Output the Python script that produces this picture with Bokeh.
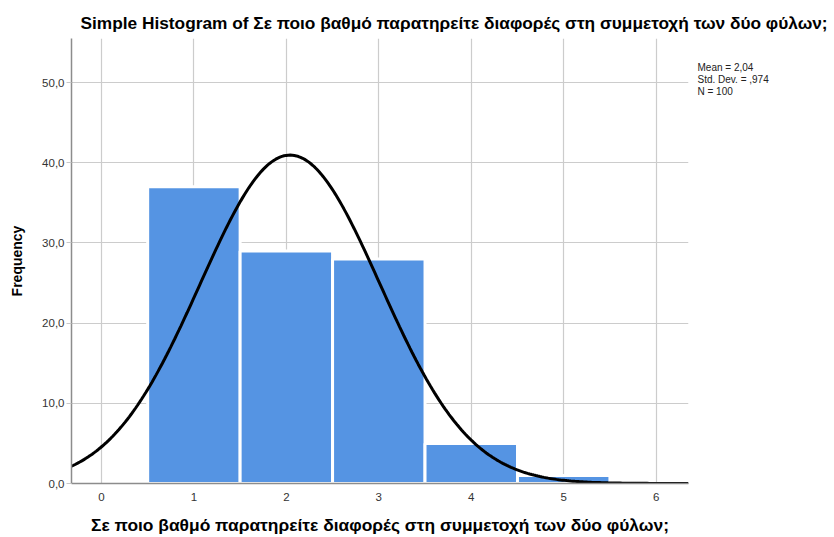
import numpy as np
from bokeh.plotting import figure
from bokeh.models import FixedTicker, ColumnDataSource, Range1d, LinearAxis
from bokeh.embed import file_html
from bokeh.resources import INLINE

# Data
categories = [1, 2, 3, 4, 5]
frequencies = [37, 29, 28, 5, 1]
x_ticks = [0, 1, 2, 3, 4, 5, 6]
y_ticks = [0, 10, 20, 30, 40, 50]
y_tick_labels = ["0,0", "10,0", "20,0", "30,0", "40,0", "50,0"]
mean_val = 2.04
std_val = 0.974
n_val = 100
stats_lines = ["Mean = 2,04", "Std. Dev. = ,974", "N = 100"]

title_text = "Simple Histogram of Σε ποιο βαθμό παρατηρείτε διαφορές στη συμμετοχή των δύο φύλων;"
x_label = "Σε ποιο βαθμό παρατηρείτε διαφορές στη συμμετοχή των δύο φύλων;"
y_label = "Frequency"

FONT = "Liberation Sans"
Y_MAX = 55.5
FRAME_H = 445.0

p = figure(width=834, height=537, output_backend="svg", toolbar_location=None,
           x_range=Range1d(-0.324, 6.35), y_range=Range1d(0, Y_MAX),
           min_border_left=71, min_border_right=146, min_border_top=38,
           min_border_bottom=54)
p.outline_line_color = None
p.background_fill_color = "white"

# Title
p.title.text = title_text
p.title.text_font = FONT
p.title.text_font_size = "17.3px"
p.title.text_font_style = "bold"
p.title.align = "left"
p.title.offset = 9
p.title.standoff = 11
p.title.text_color = "#000000"

# Bars
src = ColumnDataSource(dict(x=categories, top=frequencies))
p.vbar(x="x", top="top", width=1.0, source=src, fill_color="#5594e3",
       line_color="white", line_width=3)

# Normal curve from the reported mean and std. dev. (bin width 1)
xs = np.linspace(-0.324, 6.35, 300)
ys = n_val * 1.0 * np.exp(-0.5 * ((xs - mean_val) / std_val) ** 2) / (std_val * np.sqrt(2 * np.pi))
p.line(xs, ys, line_color="black", line_width=3)

# Axes
xax = p.xaxis[0]
yax = p.yaxis[0]
xax.ticker = FixedTicker(ticks=x_ticks)
yax.ticker = FixedTicker(ticks=y_ticks)
yax.major_label_overrides = {t: l for t, l in zip(y_ticks, y_tick_labels)}
for ax in (xax, yax):
    ax.axis_line_color = "#8c8c8c"
    ax.axis_line_width = 1.5
    ax.major_label_text_font = FONT
    ax.major_label_text_font_size = "11.5px"
    ax.major_label_text_color = "#333333"
    ax.minor_tick_line_color = None
    ax.minor_tick_in = 0
    ax.minor_tick_out = 0
    ax.axis_label_text_font = FONT
    ax.axis_label_text_font_style = "bold"
    ax.axis_label_text_color = "#000000"
xax.major_tick_line_color = None
xax.major_tick_in = 0
xax.major_tick_out = 0
xax.major_label_standoff = 9
yax.major_tick_line_color = "#c8c8c8"
yax.major_tick_in = 0
yax.major_tick_out = 5
yax.major_label_standoff = 2
xax.axis_label = x_label
yax.axis_label = y_label
xax.axis_label_text_font_size = "17.4px"
yax.axis_label_text_font_size = "14px"
xax.axis_label_standoff = 11
yax.axis_label_standoff = 14

# Grid
p.xgrid.ticker = FixedTicker(ticks=x_ticks)
p.ygrid.ticker = FixedTicker(ticks=y_ticks)
p.xgrid.grid_line_color = "#cccccc"
p.ygrid.grid_line_color = "#cccccc"
p.xgrid.grid_line_width = 1.2
p.ygrid.grid_line_width = 1.2

# Stats text block at the top right, written as labels of a bare right axis
px_per_unit = FRAME_H / Y_MAX
stats_offsets_px = [29.3, 41.0, 52.6]          # distance below the frame top
stats_y = [Y_MAX - d / px_per_unit for d in stats_offsets_px]
stats_axis = LinearAxis(ticker=FixedTicker(ticks=stats_y),
                        major_label_overrides={y: s for y, s in zip(stats_y, stats_lines)},
                        axis_line_color=None, major_tick_line_color=None,
                        minor_tick_line_color=None, major_tick_in=0, major_tick_out=0,
                        minor_tick_in=0, minor_tick_out=0, major_label_standoff=9,
                        major_label_text_font=FONT, major_label_text_font_size="10px",
                        major_label_text_color="#222222")
p.add_layout(stats_axis, "right")

open("out.html", "w").write(file_html(p, INLINE))
